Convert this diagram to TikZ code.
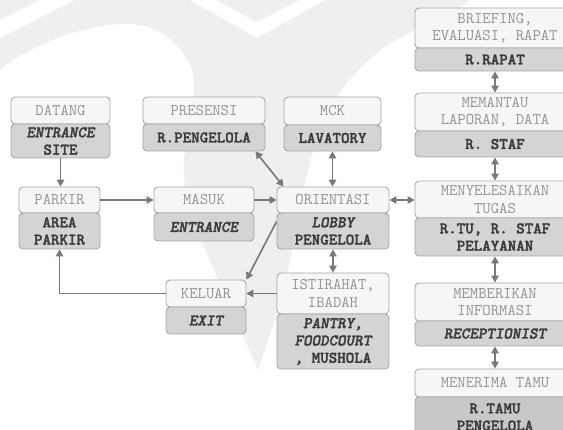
\documentclass[tikz,border=0pt]{standalone}
\usepackage{fontspec}
\usetikzlibrary{arrows.meta}

% heavy typewriter face for the room labels
\newfontfamily\roomfont{lmmonolt10-bold}[Extension=.otf,
  ItalicFont=lmmonolt10-boldoblique, RawFeature={embolden=1.8}]

\definecolor{wm}{HTML}{EFEFEF}
\definecolor{topfill}{HTML}{F6F6F6}
\definecolor{botfill}{HTML}{D4D4D4}
\definecolor{darkfill}{HTML}{C8C8C8}
\definecolor{boxline}{HTML}{A8A8A8}
\definecolor{toptext}{HTML}{939393}
\definecolor{bottext}{HTML}{3C3C3C}
\definecolor{arrowgray}{HTML}{787878}

% one cell of a two-part box: name, x1, x2, y1, y2 (pixel grid, y downwards), style, text
\newcommand{\cellbox}[7]{%
  \node[#6, minimum width={(#3)-(#2)}, minimum height={(#5)-(#4)}]
    (#1) at ({((#2)+(#3))/2},{((#4)+(#5))/2}) {#7};}

\begin{document}
\begin{tikzpicture}[x=1pt,y=-1pt,
  cellfont/.style={font=\ttfamily\fontsize{16.2}{17.3}\selectfont},
  upbox/.style={cellfont, draw=boxline, fill=topfill, rounded corners=4pt,
    line width=0.9pt, text=toptext, align=center, inner sep=0pt},
  lowbox/.style={upbox, fill=botfill, text=bottext,
    font=\roomfont\fontsize{16.2}{17.3}\selectfont},
  lowdark/.style={lowbox, fill=darkfill},
  tip/.tip={Triangle[length=7pt,width=7.5pt]},
  flow/.style={draw=arrowgray, line width=1.6pt, -tip},
  twoway/.style={draw=arrowgray, line width=1.6pt, tip-tip}]

\useasboundingbox (0,0) rectangle (563,430);
\clip (0,0) rectangle (563,430);

% faint emblem in the background
\fill[wm] (0,0) -- (470,0) .. controls (455,10) and (445,18) .. (431,25)
  .. controls (380,40) and (340,80) .. (320,130)
  .. controls (305,170) and (295,230) .. (285,290) -- (258,370) -- (203,245)
  .. controls (190,215) and (180,180) .. (185,150)
  .. controls (190,110) and (200,90) .. (190,65)
  .. controls (175,35) and (150,22) .. (120,24)
  .. controls (80,26) and (30,45) .. (0,70) -- cycle;
\fill[white] (215,0) -- (257,22) -- (300,0) -- (325,0) -- (257,38) -- (190,0) -- cycle;
\fill[white] (0,20) -- (40,0) -- (75,0) -- (0,38) -- cycle;

% left and middle boxes
\cellbox{datangA}{11}{110}{97}{124}{upbox}{DATANG}
\cellbox{datangB}{11}{110}{124}{158}{lowbox}{\itshape ENTRANCE\\SITE}
\cellbox{presensiA}{143}{265}{97}{124}{upbox}{PRESENSI}
\cellbox{presensiB}{143}{265}{124}{151}{lowbox}{R.PENGELOLA}
\cellbox{mckA}{284}{381}{97}{125}{upbox}{MCK}
\cellbox{mckB}{284}{381}{125}{151}{lowbox}{LAVATORY}
\cellbox{parkirA}{19}{100}{187}{213}{upbox}{PARKIR}
\cellbox{parkirB}{19}{100}{213}{249}{lowbox}{AREA\\PARKIR}
\cellbox{masukA}{154}{254}{187}{213}{upbox}{MASUK}
\cellbox{masukB}{154}{254}{213}{241}{lowbox}{\itshape ENTRANCE}
\cellbox{orientA}{277}{389}{187}{213}{upbox}{ORIENTASI}
\cellbox{orientB}{277}{389}{213}{249}{lowbox}{{\itshape LOBBY}\\PENGELOLA}
\cellbox{keluarA}{166}{246}{280}{307}{upbox}{KELUAR}
\cellbox{keluarB}{166}{246}{307}{334}{lowbox}{\itshape EXIT}
\cellbox{istirahatA}{277}{389}{273}{314}{upbox}{ISTIRAHAT,\\IBADAH}
\cellbox{istirahatB}{277}{389}{314}{369}{lowbox}{{\itshape PANTRY,}\\{\itshape FOODCOURT}\\{\itshape ,} MUSHOLA}

% right column
\cellbox{briefA}{415}{575}{8}{48}{upbox}{BRIEFING,\\EVALUASI, RAPAT}
\cellbox{briefB}{415}{575}{48}{71}{lowbox}{R.RAPAT}
\cellbox{pantauA}{415}{575}{93}{131}{upbox}{MEMANTAU\\LAPORAN, DATA}
\cellbox{pantauB}{415}{575}{131}{157}{lowbox}{R. STAF}
\cellbox{tugasA}{415}{575}{181}{218}{upbox}{MENYELESAIKAN\\TUGAS}
\cellbox{tugasB}{415}{575}{218}{256}{lowbox}{R.TU, R. STAF\\PELAYANAN}
\cellbox{infoA}{415}{575}{283}{321}{upbox}{MEMBERIKAN\\INFORMASI}
\cellbox{infoB}{415}{575}{321}{346}{lowbox}{\itshape RECEPTIONIST}
\cellbox{tamuA}{415}{575}{369}{397}{upbox}{MENERIMA TAMU}
\cellbox{tamuB}{415}{575}{397}{437}{lowdark}{R.TAMU\\PENGELOLA}

% connectors
\draw[flow] (datangB.south) -- (datangB.south |- parkirA.north);
\draw[flow] (parkirA.east) -- (masukA.west);
\draw[flow] (masukA.east) -- (orientA.west);
\draw[twoway] ([xshift=-10pt]presensiB.south east) -- ([xshift=7pt]orientA.north west);
\draw[twoway] (mckB.south) -- (mckB.south |- orientA.north);
\draw[twoway] (orientA.east) -- (orientA.east -| tugasA.west);
\draw[flow] ([yshift=-9pt]orientB.north west) -- (keluarA.north east);
\draw[twoway] (orientB.south) -- (orientB.south |- istirahatA.north);
\draw[flow] (istirahatA.west) -- (istirahatA.west -| keluarA.east);
\draw[flow] (keluarA.west) -| (parkirB.south);
\draw[twoway] (briefB.south) -- (pantauA.north);
\draw[twoway] (pantauB.south) -- (tugasA.north);
\draw[twoway] (tugasB.south) -- (infoA.north);
\draw[twoway] (infoB.south) -- (tamuA.north);
\end{tikzpicture}
\end{document}
